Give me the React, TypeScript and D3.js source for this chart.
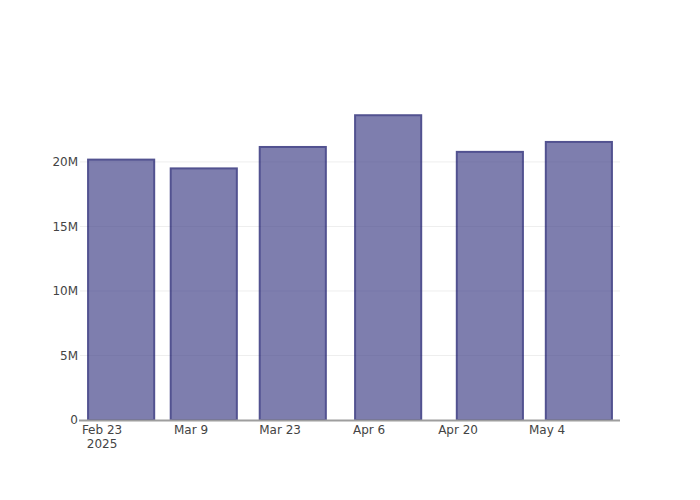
import React from 'react';
import * as d3 from 'd3';

// bar dates and values
const dates = ['2025-02-26', '2025-03-11', '2025-03-25', '2025-04-09', '2025-04-25', '2025-05-09'];
const values = [20.18e6, 19.5e6, 21.16e6, 23.62e6, 20.78e6, 21.55e6];

const xTicks = ['2025-02-23', '2025-03-09', '2025-03-23', '2025-04-06', '2025-04-20', '2025-05-04'];
const yTicks = [0, 5e6, 10e6, 15e6, 20e6];

const WIDTH = 700;
const HEIGHT = 500;
const MARGIN = { top: 100, right: 80, bottom: 80, left: 80 };
const DAY = 86400000;
const FONT = '"DejaVu Sans", Verdana, sans-serif';

const App: React.FC = () => {
  const parsed = dates.map(d => new Date(d + 'T00:00:00Z'));
  const ticks = xTicks.map(d => new Date(d + 'T00:00:00Z'));

  // bar width: 0.8 of the smallest gap between bars
  const gaps = d3.pairs(parsed).map(([a, b]) => b.getTime() - a.getTime());
  const barWidth = 0.8 * (d3.min(gaps) ?? DAY);
  const pad = 1.27 * DAY;

  const x = d3.scaleUtc()
    .domain([
      new Date(parsed[0].getTime() - barWidth / 2 - pad),
      new Date(parsed[parsed.length - 1].getTime() + barWidth / 2 + pad),
    ])
    .range([MARGIN.left, WIDTH - MARGIN.right]);

  const y = d3.scaleLinear()
    .domain([0, (d3.max(values) ?? 0) * 1.05])
    .range([HEIGHT - MARGIN.bottom, MARGIN.top]);

  const fmt = d3.timeFormat('%b %-d');
  const bw = x(new Date(parsed[0].getTime() + barWidth)) - x(parsed[0]);
  const y0 = y(0);

  return (
    <div style={{ margin: -8 }}>
      <svg width={WIDTH} height={HEIGHT} style={{ display: 'block', background: '#fff' }} fontFamily={FONT}>
        {/* grid */}
        {yTicks.filter(t => t > 0).map(t => (
          <line key={t} x1={MARGIN.left} x2={WIDTH - MARGIN.right} y1={y(t)} y2={y(t)} stroke="#eee" strokeWidth={1} />
        ))}

        {/* bars */}
        {parsed.map((d, i) => (
          <rect
            key={i}
            x={x(d) - bw / 2}
            y={y(values[i])}
            width={bw}
            height={y0 - y(values[i])}
            fill="rgb(72,72,141)"
            stroke="rgb(10,10,98)"
            strokeWidth={2}
            opacity={0.7}
          />
        ))}

        {/* axis line */}
        <line x1={MARGIN.left - 1} x2={WIDTH - MARGIN.right} y1={y0 + 0.5} y2={y0 + 0.5} stroke="#9e9e9e" strokeWidth={2} />

        {/* y tick labels */}
        {yTicks.map(t => (
          <text key={t} x={MARGIN.left - 2} y={y(t)} dy="0.35em" textAnchor="end" fontSize={12} fill="#444">
            {t === 0 ? '0' : `${t / 1e6}M`}
          </text>
        ))}

        {/* x tick labels */}
        {ticks.map((t, i) => (
          <text key={i} x={x(t)} y={y0 + 14} textAnchor="middle" fontSize={12} fill="#444">
            <tspan x={x(t)}>{fmt(t)}</tspan>
            {i === 0 && <tspan x={x(t)} dy={14}>{t.getUTCFullYear()}</tspan>}
          </text>
        ))}
      </svg>
    </div>
  );
};

export default App;
